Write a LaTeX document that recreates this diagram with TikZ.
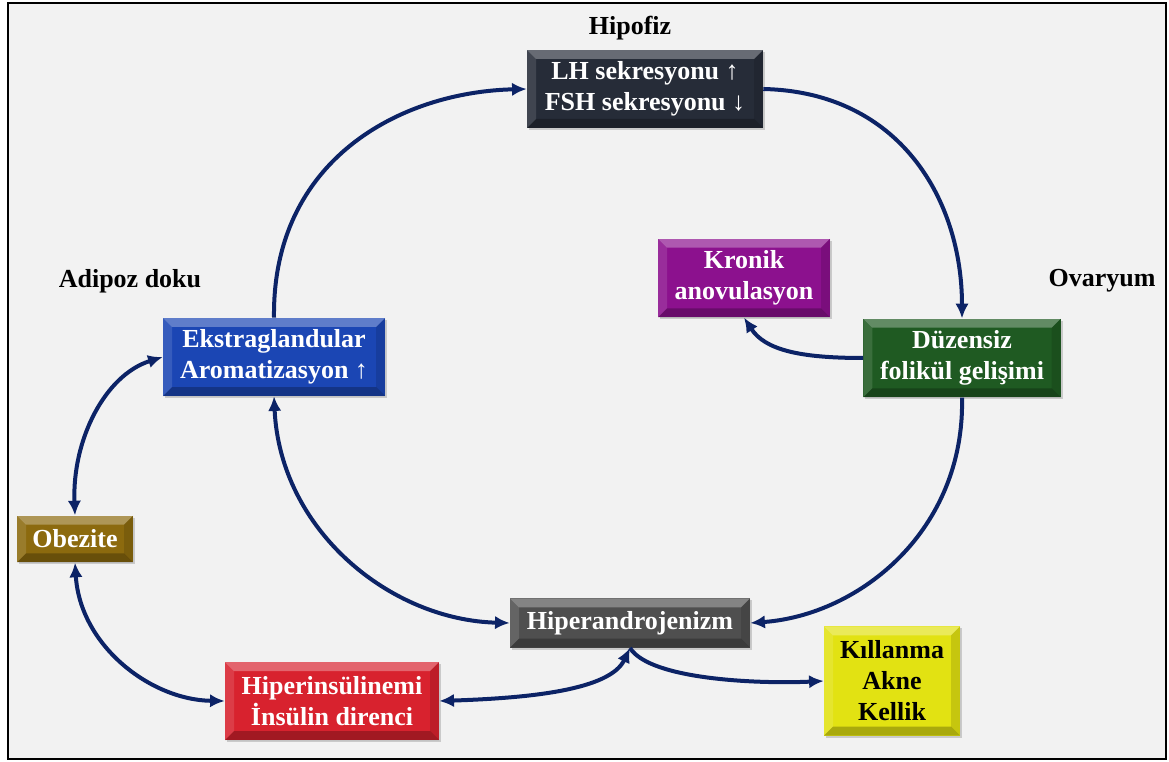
\documentclass[tikz,border=0pt]{standalone}
\usepackage{fontspec}
\setmainfont{Liberation Serif}
\usetikzlibrary{arrows.meta,calc,shadows}
\definecolor{panel}{HTML}{F2F2F2}
\definecolor{link}{HTML}{0C2366}
\definecolor{pituitary}{HTML}{262C38}
\definecolor{adipose}{HTML}{1B46B4}
\definecolor{obesity}{HTML}{8C6A0E}
\definecolor{anovul}{HTML}{8C118E}
\definecolor{ovary}{HTML}{1F5A22}
\definecolor{andro}{HTML}{4F4F4F}
\definecolor{skin}{HTML}{E2E212}
\definecolor{insulin}{HTML}{D8222E}

\tikzset{
  bevelbox/.style={rectangle, fill=#1, text=white, align=center, inner sep=0pt,
    font=\bfseries\fontsize{19.5}{23.3}\selectfont,
    drop shadow={shadow xshift=1.5pt,shadow yshift=-1.5pt,opacity=0.35},
    path picture={
      \coordinate (bnw) at (path picture bounding box.north west);
      \coordinate (bne) at (path picture bounding box.north east);
      \coordinate (bsw) at (path picture bounding box.south west);
      \coordinate (bse) at (path picture bounding box.south east);
      \fill[white,opacity=0.30] (bnw) -- (bne) -- ($(bne)+(-9,9)$) -- ($(bnw)+(9,9)$) -- cycle;
      \fill[white,opacity=0.12] (bnw) -- (bsw) -- ($(bsw)+(9,-9)$) -- ($(bnw)+(9,9)$) -- cycle;
      \fill[black,opacity=0.12] (bne) -- (bse) -- ($(bse)+(-9,-9)$) -- ($(bne)+(-9,9)$) -- cycle;
      \fill[black,opacity=0.25] (bsw) -- (bse) -- ($(bse)+(-9,-9)$) -- ($(bsw)+(9,-9)$) -- cycle;
    }},
  site/.style={font=\bfseries\fontsize{19.5}{23.3}\selectfont},
  flow/.style={draw=link, line width=3pt, -{Latex[length=11pt,width=10pt]}},
  both/.style={draw=link, line width=3pt, {Latex[length=11pt,width=10pt]}-{Latex[length=11pt,width=10pt]}},
}

\begin{document}
\begin{tikzpicture}[x=0.75pt,y=-0.75pt]
  \useasboundingbox (0,0) rectangle (1169,762);
  \fill[white] (0,0) rectangle (1169,762);
  \draw[fill=panel,line width=1.5pt] (8,3) rectangle (1166,759);

  % labels of the sites
  \node[site] (lblpit) at (630,28) {Hipofiz};
  \node[site] (lbladi) at (130,281) {Adipoz doku};
  \node[site] (lblova) at (1102,281) {Ovaryum};

  % boxes
  \node[bevelbox=pituitary,minimum width=177pt,minimum height=58.5pt] (pit) at (645,89)
    {LH sekresyonu ↑\\FSH sekresyonu ↓};
  \node[bevelbox=adipose,minimum width=166.5pt,minimum height=58.5pt] (arom) at (274,357)
    {Ekstraglandular\\Aromatizasyon ↑};
  \node[bevelbox=obesity,minimum width=87pt,minimum height=35pt] (obez) at (75,539) {Obezite};
  \node[bevelbox=anovul,minimum width=129pt,minimum height=59pt] (anov) at (744,278)
    {Kronik\\anovulasyon};
  \node[bevelbox=ovary,minimum width=148pt,minimum height=59pt] (foll) at (962,358)
    {Düzensiz\\folikül gelişimi};
  \node[bevelbox=andro,minimum width=180pt,minimum height=37pt] (andr) at (630,623)
    {Hiperandrojenizm};
  \node[bevelbox=skin,text=black,minimum width=102pt,minimum height=82pt] (hair) at (892,681)
    {Kıllanma\\Akne\\Kellik};
  \node[bevelbox=insulin,minimum width=160.5pt,minimum height=58.5pt] (insu) at (332,701)
    {Hiperinsülinemi\\İnsülin direnci};

  % connectors
  \draw[flow] (arom.north) .. controls (272,160) and (400,92) .. (pit.west);
  \draw[flow] (pit.east) .. controls (900,92) and (962,200) .. (foll.north);
  \draw[flow] (foll.west) .. controls (800,358) and (765,350) .. (anov.south);
  \draw[flow] (foll.south) .. controls (965,530) and (860,615) .. (andr.east);
  \draw[both] (arom.south) .. controls (280,530) and (390,620) .. (andr.west);
  \draw[both] (arom.west) .. controls (105,375) and (72,440) .. (obez.north);
  \draw[both] (obez.south) .. controls (80,645) and (150,700) .. (insu.west);
  \draw[both] (insu.east) .. controls (530,698) and (610,690) .. (andr.south);
  \draw[flow] (andr.south) .. controls (650,680) and (760,684) .. (hair.west);
\end{tikzpicture}
\end{document}
